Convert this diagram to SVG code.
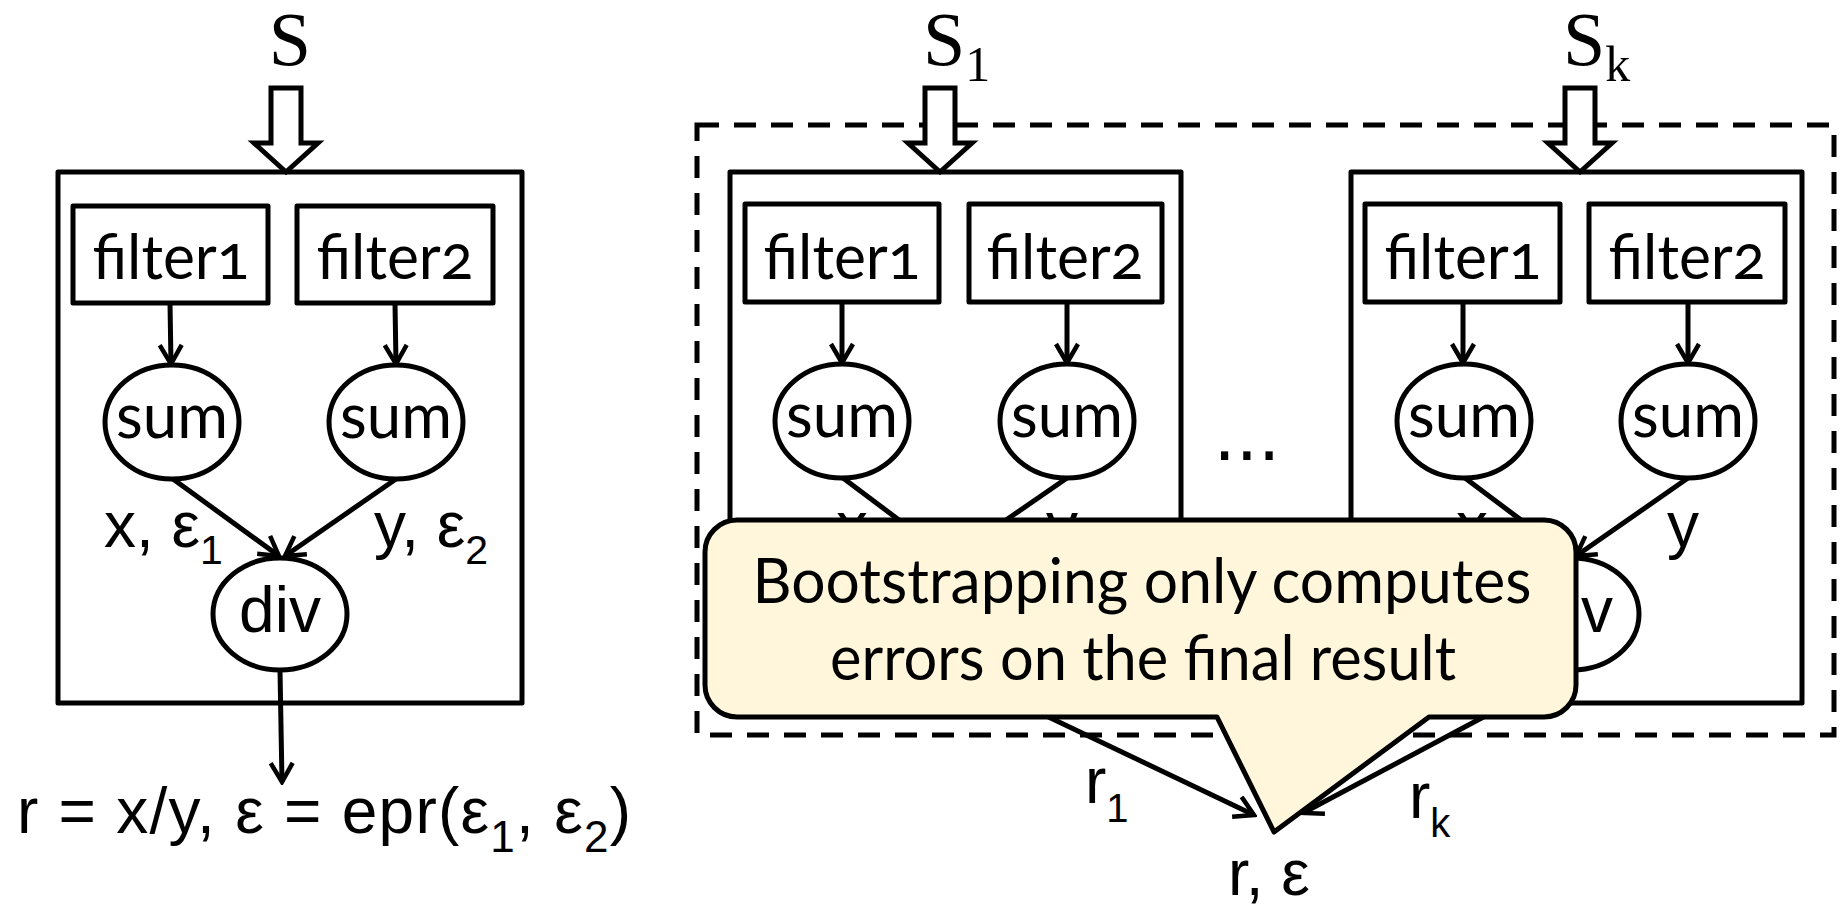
<svg xmlns="http://www.w3.org/2000/svg" width="1845" height="912" viewBox="0 0 1845 912">
<defs>
<style>
.box{fill:#fff;stroke:#000;stroke-width:5;stroke-linejoin:round}
.nd{fill:#fff;stroke:#000;stroke-width:5}
.ln{fill:none;stroke:#000;stroke-width:5;marker-end:url(#ah)}
.cal{font-family:Lato,"Open Sans",sans-serif;font-size:62px;fill:#000;text-anchor:middle}
.num{font-variant-numeric:oldstyle-nums}
.ar{font-family:"Liberation Sans",Arial,sans-serif;font-size:64px;fill:#000}
.tm{font-family:"Liberation Serif","Times New Roman",serif;font-size:76px;fill:#000}
.blk{fill:#fff;stroke:#000;stroke-width:5;stroke-linejoin:miter}
</style>
<marker id="ah" viewBox="0 0 24 26" refX="21" refY="13" markerWidth="24" markerHeight="26" markerUnits="userSpaceOnUse" orient="auto">
<path d="M2,2 L21,13 L2,24" fill="none" stroke="#000" stroke-width="4.5"/>
</marker>
</defs>
<rect width="1845" height="912" fill="#fff"/>

<!-- Left panel -->
<g id="left-box"><rect class="box" x="58" y="172" width="464" height="531"/></g>
<g id="left-S"><text class="tm" x="290" y="65" text-anchor="middle">S</text>
<polygon class="blk" points="271,88 301,88 301,143 318,143 286,172 254,143 271,143"/></g>
<g id="left-filter1"><rect class="box" x="73" y="206" width="195" height="97"/><text class="cal num" x="171" y="279" textLength="157" lengthAdjust="spacingAndGlyphs">filter1</text></g>
<g id="left-filter2"><rect class="box" x="297" y="206" width="196" height="97"/><text class="cal num" x="395" y="279" textLength="157" lengthAdjust="spacingAndGlyphs">filter2</text></g>
<g id="left-sum1"><ellipse class="nd" cx="172" cy="422" rx="67" ry="57"/><text class="cal" x="172" y="438" font-size="64" textLength="112" lengthAdjust="spacingAndGlyphs">sum</text></g>
<g id="left-sum2"><ellipse class="nd" cx="396" cy="422" rx="67" ry="57"/><text class="cal" x="396" y="438" font-size="64" textLength="112" lengthAdjust="spacingAndGlyphs">sum</text></g>
<g id="left-div"><ellipse class="nd" cx="280" cy="614" rx="67" ry="56"/><text class="ar" x="280" y="632" font-size="56" text-anchor="middle">div</text></g>

<!-- Right panel -->
<g id="group-dashed"><rect x="697" y="125" width="1137" height="610" fill="none" stroke="#000" stroke-width="5" stroke-dasharray="22 15"/></g>

<g id="box1"><rect class="box" x="730" y="172" width="451" height="531"/></g>
<g id="box1-S"><text class="tm" x="923" y="65">S<tspan font-size="50" dy="16">1</tspan></text>
<polygon class="blk" points="925,88 955,88 955,143 972,143 940,172 908,143 925,143"/></g>
<g id="box1-filter1"><rect class="box" x="745" y="204" width="194" height="98"/><text class="cal num" x="842" y="279" textLength="157" lengthAdjust="spacingAndGlyphs">filter1</text></g>
<g id="box1-filter2"><rect class="box" x="969" y="204" width="193" height="98"/><text class="cal num" x="1065" y="279" textLength="157" lengthAdjust="spacingAndGlyphs">filter2</text></g>
<g id="box1-sum1"><ellipse class="nd" cx="842" cy="421" rx="67" ry="57"/><text class="cal" x="842" y="437" font-size="64" textLength="112" lengthAdjust="spacingAndGlyphs">sum</text></g>
<g id="box1-sum2"><ellipse class="nd" cx="1067" cy="421" rx="67" ry="57"/><text class="cal" x="1067" y="437" font-size="64" textLength="112" lengthAdjust="spacingAndGlyphs">sum</text></g>
<g id="box1-div"><ellipse class="nd" cx="950" cy="614" rx="67" ry="56"/><text class="ar" x="950" y="632" font-size="56" text-anchor="middle">div</text></g>

<g id="boxk"><rect class="box" x="1351" y="172" width="451" height="531"/></g>
<g id="boxk-S"><text class="tm" x="1563" y="65">S<tspan font-size="50" dy="16">k</tspan></text>
<polygon class="blk" points="1565,88 1595,88 1595,143 1612,143 1580,172 1548,143 1565,143"/></g>
<g id="boxk-filter1"><rect class="box" x="1365" y="204" width="195" height="98"/><text class="cal num" x="1463" y="279" textLength="157" lengthAdjust="spacingAndGlyphs">filter1</text></g>
<g id="boxk-filter2"><rect class="box" x="1589" y="204" width="196" height="98"/><text class="cal num" x="1687" y="279" textLength="157" lengthAdjust="spacingAndGlyphs">filter2</text></g>
<g id="boxk-sum1"><ellipse class="nd" cx="1464" cy="421" rx="67" ry="57"/><text class="cal" x="1464" y="437" font-size="64" textLength="112" lengthAdjust="spacingAndGlyphs">sum</text></g>
<g id="boxk-sum2"><ellipse class="nd" cx="1688" cy="421" rx="67" ry="57"/><text class="cal" x="1688" y="437" font-size="64" textLength="112" lengthAdjust="spacingAndGlyphs">sum</text></g>
<g id="boxk-div"><ellipse class="nd" cx="1572" cy="614" rx="67" ry="56"/><text class="ar" x="1572" y="632" font-size="56" text-anchor="middle">div</text></g>

<g id="connectors">
<line class="ln" x1="170" y1="303" x2="171" y2="364"/>
<line class="ln" x1="395" y1="303" x2="396" y2="364"/>
<line class="ln" x1="173" y1="479" x2="279" y2="556"/>
<line class="ln" x1="396" y1="479" x2="285" y2="556"/>
<line class="ln" x1="280" y1="670" x2="282" y2="782"/>
<line class="ln" x1="842" y1="302" x2="842" y2="363"/>
<line class="ln" x1="1067" y1="302" x2="1067" y2="363"/>
<line class="ln" x1="843" y1="478" x2="947" y2="556"/>
<line class="ln" x1="1067" y1="478" x2="954" y2="556"/>
<line class="ln" x1="950" y1="670" x2="1254" y2="815"/>
<line class="ln" x1="1463" y1="302" x2="1463" y2="363"/>
<line class="ln" x1="1688" y1="302" x2="1688" y2="363"/>
<line class="ln" x1="1465" y1="478" x2="1569" y2="556"/>
<line class="ln" x1="1688" y1="478" x2="1576" y2="556"/>
<line class="ln" x1="1572" y1="670" x2="1303" y2="813"/>
</g>

<g id="labels">
<text class="ar" x="104" y="547" font-size="66">x, ε<tspan font-size="41" dy="17">1</tspan></text>
<text class="ar" x="374" y="547" font-size="66">y, ε<tspan font-size="41" dy="17">2</tspan></text>
<text class="ar" x="17" y="833" textLength="614" lengthAdjust="spacing">r = x/y, ε = epr(ε<tspan font-size="44" dy="19">1</tspan><tspan dy="-19">, ε</tspan><tspan font-size="44" dy="19">2</tspan><tspan dy="-19">)</tspan></text>
<text class="ar" x="852" y="547" text-anchor="middle">x</text>
<text class="ar" x="1062" y="547" text-anchor="middle">y</text>
<text class="ar" x="1472" y="547" text-anchor="middle">x</text>
<text class="ar" x="1683" y="547" text-anchor="middle">y</text>
<text x="1247" y="460" font-family="'DejaVu Sans',sans-serif" font-size="70" text-anchor="middle">...</text>
<text class="ar" x="1085" y="803">r<tspan font-size="40" dy="19">1</tspan></text>
<text class="ar" x="1409" y="818">r<tspan font-size="40" dy="19">k</tspan></text>
<text class="ar" x="1228" y="895">r, ε</text>
</g>

<g id="callout">
<path d="M737,520 H1544 A32,32 0 0 1 1576,552 V685 A32,32 0 0 1 1544,717 H1429 L1274,832 L1217,717 H737 A32,32 0 0 1 705,685 V552 A32,32 0 0 1 737,520 Z" fill="#FFF6DB" stroke="#000" stroke-width="5" stroke-linejoin="round"/>
<text class="cal" x="1142" y="603" textLength="779" lengthAdjust="spacingAndGlyphs">Bootstrapping only computes</text>
<text class="cal" x="1143" y="680" textLength="626" lengthAdjust="spacingAndGlyphs">errors on the final result</text>
</g>
</svg>
